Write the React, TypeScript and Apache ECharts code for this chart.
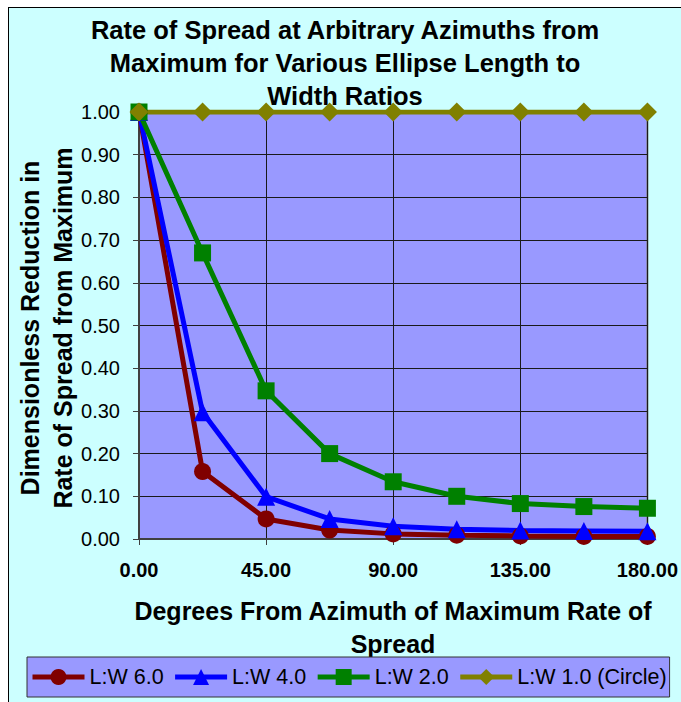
import React, { useEffect, useRef } from "react";
import * as echarts from "echarts";

const degrees = [0, 22.5, 45, 67.5, 90, 112.5, 135, 157.5, 180];
const lw6 = [1.0, 0.158, 0.047, 0.021, 0.012, 0.009, 0.007, 0.006, 0.006];
const lw4 = [1.0, 0.297, 0.099, 0.047, 0.030, 0.023, 0.020, 0.019, 0.018];
const lw2 = [1.0, 0.67, 0.347, 0.2, 0.134, 0.1, 0.083, 0.076, 0.072];
const lw1 = [1, 1, 1, 1, 1, 1, 1, 1, 1];
const seriesNames = ["L:W 6.0", "L:W 4.0", "L:W 2.0", "L:W 1.0 (Circle)"];
const titleLines = [
  "Rate of Spread at Arbitrary Azimuths from",
  "Maximum for Various Ellipse Length to",
  "Width Ratios",
];
const xTitleLines = ["Degrees From Azimuth of Maximum Rate of", "Spread"];
const yTitleLines = ["Dimensionless Reduction in", "Rate of Spread from Maximum"];

const FONT = '"Liberation Sans", Arial, sans-serif';

export default function App() {
  const ref = useRef<HTMLDivElement>(null);
  useEffect(() => {
    if (!ref.current) return;
    const chart = echarts.init(ref.current, null, { renderer: "svg" });
    const pairs = (ys: number[]) => degrees.map((d, i) => [d, ys[i]]);
    const mk = (name: string, ys: number[], color: string, symbol: string, size: number) => ({
      name,
      type: "line",
      data: pairs(ys),
      symbol,
      symbolSize: size,
      showAllSymbol: true,
      lineStyle: { color, width: 5 },
      itemStyle: { color },
      emphasis: { disabled: true },
    });
    chart.setOption({
      animation: false,
      backgroundColor: "transparent",
      textStyle: { fontFamily: FONT },
      graphic: [
        {
          type: "text",
          x: 345,
          y: 13,
          style: {
            text: titleLines.join("\n"),
            font: `bold 25.5px ${FONT}`,
            lineHeight: 33,
            textAlign: "center",
            textVerticalAlign: "top",
            fill: "#000",
          },
        },
        {
          type: "text",
          x: 393,
          y: 594,
          style: {
            text: xTitleLines.join("\n"),
            font: `bold 25px ${FONT}`,
            lineHeight: 33,
            textAlign: "center",
            textVerticalAlign: "top",
            fill: "#000",
          },
        },
        {
          type: "text",
          x: 46,
          y: 328,
          rotation: Math.PI / 2,
          style: {
            text: yTitleLines.join("\n"),
            font: `bold 25px ${FONT}`,
            lineHeight: 33,
            textAlign: "center",
            textVerticalAlign: "middle",
            fill: "#000",
          },
        },
      ],
      grid: {
        left: 139,
        top: 112,
        width: 510,
        height: 427,
        show: true,
        backgroundColor: "#9999FF",
        borderColor: "#808080",
        borderWidth: 2,
      },
      legend: {
        left: 27,
        top: 657,
        width: 650,
        padding: [9, 3],
        itemWidth: 52,
        itemHeight: 20,
        itemGap: 9,
        backgroundColor: "#9999FF",
        borderColor: "#333333",
        borderWidth: 1,
        lineStyle: { width: 5 },
        textStyle: { fontSize: 21.5, color: "#000", fontFamily: FONT },
        data: seriesNames,
      },
      xAxis: {
        type: "value",
        min: 0,
        max: 180,
        interval: 45,
        axisLine: { show: true, lineStyle: { color: "#404040", width: 2 } },
        axisTick: { show: true, length: 6, lineStyle: { color: "#404040", width: 1 } },
        axisLabel: {
          margin: 21,
          fontSize: 20,
          fontWeight: "bold",
          color: "#000",
          fontFamily: FONT,
          formatter: (v: number) => v.toFixed(2),
        },
        splitLine: { show: true, lineStyle: { color: "#1a1a1a", width: 1 } },
      },
      yAxis: {
        type: "value",
        min: 0,
        max: 1,
        interval: 0.1,
        axisLine: { show: true, lineStyle: { color: "#404040", width: 2 } },
        axisTick: { show: true, length: 6, lineStyle: { color: "#404040", width: 1 } },
        axisLabel: {
          margin: 19,
          fontSize: 20,
          color: "#000",
          fontFamily: FONT,
          formatter: (v: number) => v.toFixed(2),
        },
        splitLine: { show: true, lineStyle: { color: "#1a1a1a", width: 1 } },
      },
      series: [
        mk(seriesNames[0], lw6, "#800000", "circle", 17),
        mk(seriesNames[1], lw4, "#0000FF", "triangle", 18),
        mk(seriesNames[2], lw2, "#008000", "rect", 17),
        mk(seriesNames[3], lw1, "#808000", "diamond", 19),
      ],
    });
    return () => chart.dispose();
  }, []);
  return (
    <div style={{ position: "absolute", left: 0, top: 0, width: 681, height: 702, background: "#fff", overflow: "hidden" }}>
      <div
        style={{
          position: "absolute",
          left: 8,
          top: 7,
          width: 700,
          height: 720,
          background: "#CCFFFF",
          borderLeft: "1px solid #000",
          borderTop: "1px solid #000",
        }}
      />
      <div ref={ref} style={{ position: "absolute", left: 0, top: 0, width: 681, height: 702 }} />
    </div>
  );
}
